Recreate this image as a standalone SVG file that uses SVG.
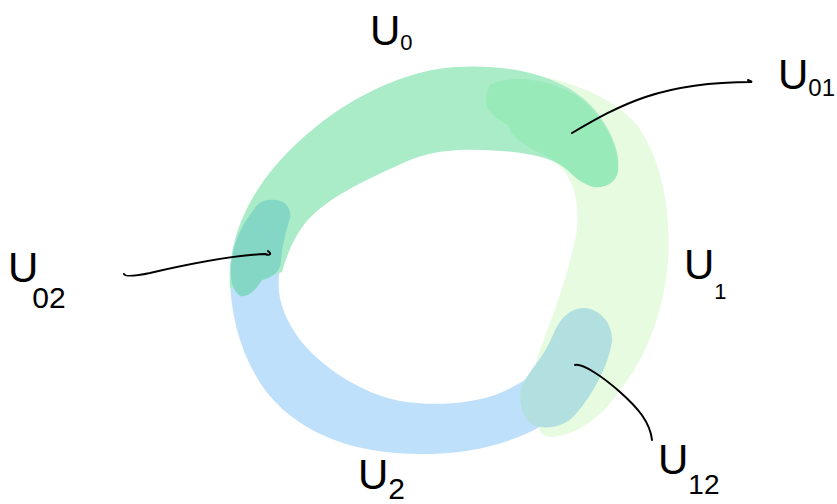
<svg xmlns="http://www.w3.org/2000/svg" width="837" height="504" viewBox="0 0 837 504">
<style>
.lbl{font-family:"Liberation Sans","DejaVu Sans",sans-serif;font-size:42px;fill:#000;}
.sub{font-size:22px;}
.lead{fill:none;stroke:#000;stroke-width:2;stroke-linecap:round;}
</style>
<rect width="837" height="504" fill="#fff"/>
<g id="U1">
<path fill="#e6fbe0" d="M 514,73 C 560,76 612,95 637,125 C 662,160 671,210 668,260 C 665,310 645,360 620,390 C 600,420 575,435 552,437 C 540,436 538,430 540,425 C 532,400 532,370 540,350 C 555,310 570,270 577,230 C 580,200 572,175 556,163 L 530,120 Z"/>
</g>
<g id="U2">
<path fill="#bfe0fa" d="M 230,262 C 228,310 240,355 265,390 C 292,425 335,448 395,453 C 445,457 492,450 530,432 C 560,418 585,395 602,365 L 572,338 C 555,360 530,380 500,393 C 470,405 430,406 400,401 C 360,393 322,367 300,340 C 283,316 275,295 280,268 Z"/>
</g>
<g id="U0">
<path fill="#a9ecc7" d="M 230,288 C 227,240 248,192 290,150 C 330,110 390,72 455,67 C 520,63 570,80 595,110 C 615,135 626,165 612,182 C 597,193 578,182 570,172 C 555,158 530,153 500,151 C 470,149 440,148 410,160 C 370,178 330,195 306,222 C 292,240 286,258 282,272 Z"/>
</g>
<g id="U01">
<path fill="#99eab9" d="M 490,85 C 510,74 550,78 580,98 C 605,118 620,150 618,172 C 615,185 600,190 590,186 C 575,180 565,165 550,158 C 530,148 512,140 508,125 C 495,118 484,110 486,96 Z"/>
</g>
<g id="U02">
<path fill="#84d7c5" d="M 268,200 C 282,198 292,205 290,218 C 286,232 282,245 281,262 C 280,272 272,278 262,280 C 256,290 248,298 240,296 C 232,290 230,280 231,265 C 233,245 240,228 252,212 C 256,205 262,200 268,200 Z"/>
</g>
<g id="U12">
<path fill="#b2dfdf" d="M 585,308 C 602,310 613,325 612,342 C 608,365 595,392 575,415 C 563,428 545,430 533,425 C 521,418 518,398 522,385 C 530,370 545,355 553,335 C 560,318 570,308 585,308 Z"/>
</g>
<g id="connectors">
<path class="lead" d="M 572,133 C 620,105 660,82 752,82 L 748,80"/>
<path class="lead" d="M 268,251 C 272,254 270,256 265,254 C 225,256 180,266 150,273 C 135,276 125,277 124,274"/>
<path class="lead" d="M 575,365 C 582,363 602,376 620,392 C 638,408 650,422 652,440"/>
</g>
<g id="labels">
<text class="lbl" x="370" y="45">U<tspan class="sub" dy="5">0</tspan></text>
<text class="lbl" x="778" y="89">U<tspan class="sub" style="font-size:24px" dy="7">01</tspan></text>
<text class="lbl" x="8" y="282">U<tspan class="sub" style="font-size:30px" dx="-6" dy="26">02</tspan></text>
<text class="lbl" x="684" y="279">U<tspan class="sub" dy="20">1</tspan></text>
<text class="lbl" x="658" y="474">U<tspan class="sub" style="font-size:28px" dy="20">12</tspan></text>
<text class="lbl" x="358" y="489">U<tspan class="sub" style="font-size:30px" dy="10">2</tspan></text>
</g>
</svg>
